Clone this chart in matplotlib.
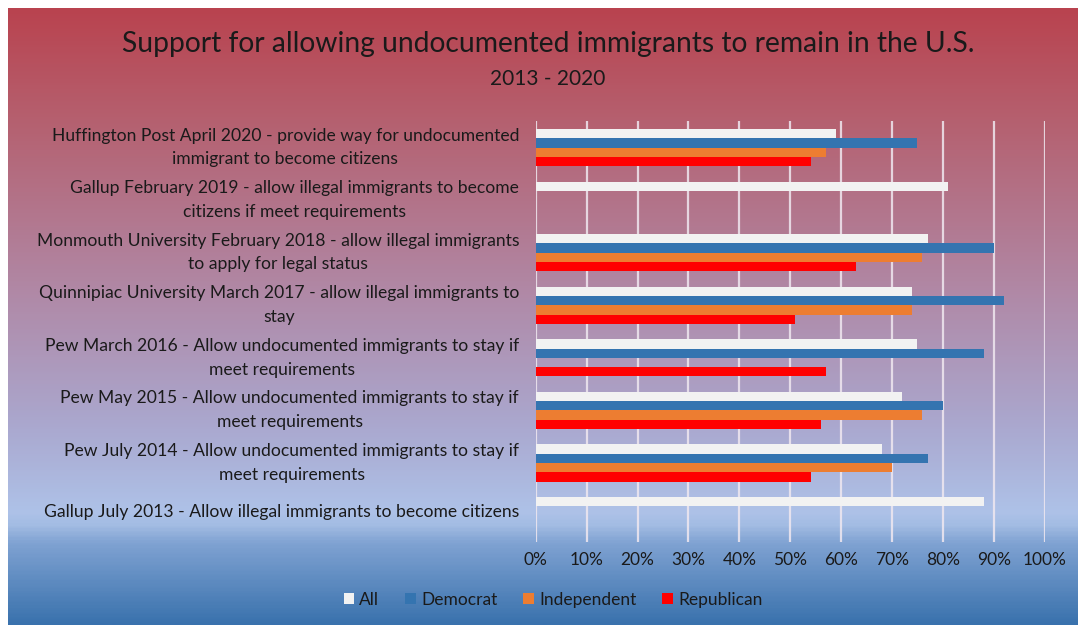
import matplotlib.pyplot as plt
import matplotlib.transforms as mtransforms
import numpy as np
from matplotlib.colors import LinearSegmentedColormap

# poll labels, top to bottom
labels = [
    "Huffington Post April 2020 - provide way for undocumented\nimmigrant to become citizens",
    "Gallup February 2019 - allow illegal immigrants to become\ncitizens if meet requirements",
    "Monmouth University February 2018 - allow illegal immigrants\nto apply for legal status",
    "Quinnipiac University March 2017 - allow illegal immigrants to\nstay",
    "Pew March 2016 - Allow undocumented immigrants to stay if\nmeet requirements",
    "Pew May 2015 - Allow undocumented immigrants to stay if\nmeet requirements",
    "Pew July 2014 - Allow undocumented immigrants to stay if\nmeet requirements",
    "Gallup July 2013 - Allow illegal immigrants to become citizens",
]

# percent support (nan = not reported)
all_pct = [59, 81, 77, 74, 75, 72, 68, 88]
dem_pct = [75, np.nan, 90, 92, 88, 80, 77, np.nan]
ind_pct = [57, np.nan, 76, 74, np.nan, 76, 70, np.nan]
rep_pct = [54, np.nan, 63, 51, 57, 56, 54, np.nan]

series = ["All", "Democrat", "Independent", "Republican"]
colors = ["#f2f2f2", "#3474b0", "#ed7d31", "#ff0000"]

plt.rcParams['font.family'] = ['Lato', 'DejaVu Sans']

fig = plt.figure(figsize=(10.78, 6.25), dpi=100)
fig.patch.set_facecolor("white")

# gradient background
bg = fig.add_axes([0.0075, 0, 0.9925, 0.987], zorder=-10)
cmap = LinearSegmentedColormap.from_list("bg", [
    (0.00, "#b9434f"),
    (0.18, "#b5606f"),
    (0.47, "#b08aa8"),
    (0.68, "#aaa8cf"),
    (0.82, "#aec2e8"),
    (0.84, "#a3bce3"),
    (0.87, "#7fa2d2"),
    (1.00, "#3a72ad"),
])
grad = np.linspace(0, 1, 400).reshape(-1, 1)
bg.imshow(grad, aspect="auto", cmap=cmap, extent=[0, 1, 1, 0])
bg.set_axis_off()

ax = fig.add_axes([0.497, 0.133, 0.472, 0.673])
ax.set_facecolor("none")

y = np.arange(len(labels))
h = 0.177
data = [all_pct, dem_pct, ind_pct, rep_pct]
for i, (name, vals, c) in enumerate(zip(series, data, colors)):
    ax.barh(y + (i - 1.5) * h, vals, height=h, color=c, label=name, zorder=3)

ax.set_xlim(0, 100)
ax.set_ylim(len(labels) - 0.5, -0.5)
ax.set_xticks(np.arange(0, 101, 10))
ax.set_xticklabels([f"{v}%" for v in range(0, 101, 10)], fontsize=12.5, color="#1a1a1a")
ax.tick_params(axis="x", length=0, pad=7)
ax.xaxis.grid(True, color="#f0e8f0", linewidth=1.6, alpha=0.85, zorder=0)
ax.set_yticks(y)
ax.set_yticklabels(labels, fontsize=12.6, color="#1a1a1a", multialignment="center",
                   linespacing=1.6)
ax.tick_params(axis="y", length=0, pad=12)
# labels sit a little above the group centre
shift = mtransforms.ScaledTranslation(0, 0.055, fig.dpi_scale_trans)
for lbl in ax.get_yticklabels():
    lbl.set_transform(lbl.get_transform() + shift)
for s in ax.spines.values():
    s.set_visible(False)

fig.text(0.509, 0.929, "Support for allowing undocumented immigrants to remain in the U.S.",
         ha="center", va="center", fontsize=20.3, color="#1a1a1a")
fig.text(0.508, 0.873, "2013 - 2020", ha="center", va="center", fontsize=15, color="#1a1a1a")

leg = fig.legend(loc="center", bbox_to_anchor=(0.513, 0.04), ncol=4, frameon=False,
                 fontsize=12.5, handlelength=0.6, handleheight=0.6, handletextpad=0.3,
                 columnspacing=1.5)
for t in leg.get_texts():
    t.set_color("#1a1a1a")

fig.savefig("out.png", dpi=100)
